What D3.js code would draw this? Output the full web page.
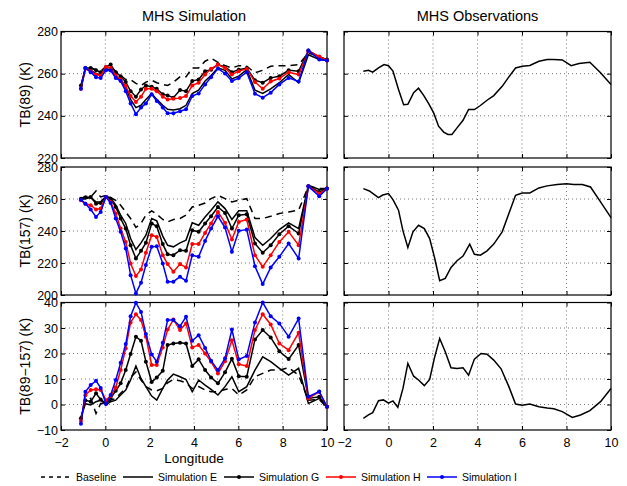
<!DOCTYPE html>
<html><head><meta charset="utf-8">
<script src="https://cdn.jsdelivr.net/npm/d3@7"></script>
<style>body{margin:0;background:#fff}svg{display:block;font-family:"Liberation Sans",Arial,sans-serif}</style>
</head><body><svg id="c" width="627" height="486"></svg>
<script>
// ---------- DATA ----------
const lonSim = [-1.10,-0.90,-0.66,-0.42,-0.21,0.03,0.24,0.47,0.69,0.92,1.14,1.38,1.61,1.83,2.09,2.32,2.59,2.81,3.07,3.37,3.64,3.92,4.21,4.50,4.77,5.08,5.40,5.71,6.02,6.38,6.75,7.10,7.46,7.85,8.27,8.72,9.16,9.65,10.0];

const base89 = [254.0,262.7,262.7,262.0,261.2,263.5,262.7,261.2,259.1,257.2,257.2,255.4,254.4,256.0,256.9,255.7,254.9,254.4,256.0,258.5,258.5,262.7,262.7,265.9,267.4,265.4,263.8,262.7,263.8,263.5,260.4,261.6,263.5,263.8,263.8,264.3,269.8,268.2,266.3];
const simE89 = [253.8,262.3,261.6,260.0,259.6,262.3,261.9,258.8,257.2,253.3,247.8,243.9,245.0,247.8,250.6,247.8,245.0,243.1,242.8,243.4,245.0,250.6,252.2,256.5,259.1,262.7,261.6,257.5,258.8,261.9,252.2,250.6,252.8,255.7,259.6,255.7,269.0,266.7,266.3];
const simG89 = [254.4,262.7,262.7,261.6,260.7,263.2,264.3,260.7,258.8,256.0,251.7,249.1,252.5,254.4,253.8,252.8,250.2,249.7,248.6,252.2,251.7,256.5,257.2,261.2,261.9,264.3,263.2,260.7,261.9,262.7,256.9,255.7,258.0,258.8,261.6,261.2,271.0,267.9,266.7];
const simH89 = [252.8,262.3,261.2,259.6,259.1,263.2,262.7,259.1,257.2,254.1,249.4,246.6,249.1,252.8,252.8,251.7,249.1,247.8,248.1,248.4,249.4,254.4,255.7,259.6,262.3,264.3,262.7,259.6,261.2,262.3,256.0,252.8,256.3,257.7,260.7,259.6,270.6,268.2,266.3];
const simI89 = [252.8,262.7,260.7,258.3,258.0,261.6,261.5,258.0,256.5,251.7,245.9,240.8,243.9,245.9,250.2,247.0,243.9,241.2,241.2,242.2,243.1,249.4,250.6,254.9,258.3,262.4,260.1,256.5,257.9,260.7,250.5,248.6,251.0,254.9,258.0,256.3,271.0,266.7,266.2];

const base157 = [260.2,261.7,261.3,265.0,261.3,262.3,260.9,259.2,256.1,251.9,247.8,242.2,244.7,249.9,252.6,250.5,247.2,245.7,247.2,247.8,249.9,255.0,256.1,257.5,260.2,262.3,260.2,258.2,259.2,260.2,247.8,247.8,249.2,250.9,251.9,253.0,267.9,266.5,266.5];
const simE157 = [259.6,260.2,260.9,258.2,258.2,261.7,260.9,256.1,249.9,244.7,235.3,228.4,232.6,237.4,247.8,246.3,236.8,231.1,230.1,232.6,234.3,245.1,243.6,248.8,253.0,258.2,254.0,247.2,252.6,252.6,235.9,231.1,235.3,240.9,245.1,241.5,268.6,265.9,266.5];
const simG157 = [260.2,260.9,261.3,257.1,257.5,261.3,260.2,255.0,247.8,241.5,231.1,222.8,227.6,232.6,244.7,243.0,231.8,225.5,224.9,228.0,227.6,240.5,239.5,244.7,249.2,255.0,251.3,241.5,249.9,250.5,232.2,226.4,231.1,238.0,243.0,238.4,267.9,264.4,266.5];
const simH157 = [259.2,257.1,256.1,253.4,254.0,261.3,258.2,250.9,241.5,233.2,219.7,211.8,216.0,226.4,237.4,236.3,224.9,219.3,214.5,219.3,217.2,231.8,231.8,238.8,244.7,251.9,245.1,234.7,245.7,247.2,224.9,217.6,224.9,233.2,239.5,231.1,267.9,263.4,266.5];
const simI157 = [259.6,257.1,253.4,248.8,251.9,261.3,257.5,247.8,239.5,229.1,212.4,201.0,207.7,218.7,230.1,230.5,219.7,208.3,208.3,211.4,208.9,224.9,223.9,233.8,241.5,249.2,242.2,227.0,240.1,240.9,218.0,206.8,217.2,223.9,232.2,222.8,267.9,261.7,266.5];

const baseDiff = [-6.0,1.2,2.4,-3.5,0.4,0.4,1.7,2.4,4.4,6.3,10.6,12.8,9.6,7.0,5.7,5.4,6.3,8.5,9.8,9.3,8.5,6.3,7.0,5.7,5.0,5.0,5.9,6.3,3.7,5.7,10.9,12.2,13.5,13.5,14.4,11.5,1.7,2.0,-1.1];
const simEDiff = [-5.0,0.3,-0.2,1.1,1.7,-0.1,1.1,1.7,3.7,5.7,9.6,15.1,10.2,7.0,3.3,1.7,6.3,9.6,11.9,10.9,9.8,5.0,9.6,7.6,5.9,3.7,7.0,10.9,5.0,7.0,13.5,18.7,16.8,14.2,11.5,14.2,0.4,2.4,-1.1];
const simGDiff = [-5.4,1.7,1.1,4.4,2.0,0.4,2.4,5.4,8.3,13.5,19.8,26.6,25.0,16.8,8.8,10.6,13.2,23.3,23.9,24.2,23.9,15.1,17.7,13.5,10.6,8.3,12.6,17.9,11.1,10.9,25.5,29.2,26.3,20.9,17.8,23.3,2.4,3.0,-0.9];
const simHDiff = [-6.5,3.6,5.7,6.0,5.7,1.7,3.3,6.7,13.5,22.0,32.2,35.4,33.1,26.6,15.5,15.5,22.4,29.4,33.3,29.2,31.8,22.4,23.3,20.0,16.8,12.2,17.0,25.2,15.8,15.1,29.2,35.4,31.4,23.9,21.3,28.1,2.4,5.0,-0.9];
const simIDiff = [-7.5,5.0,7.6,9.3,6.5,0.2,3.7,9.6,16.4,23.7,34.6,39.9,36.3,27.6,19.6,16.8,24.2,33.1,33.1,30.7,34.4,25.0,27.2,22.2,17.2,13.5,18.1,29.4,17.7,19.0,32.2,40.0,34.6,31.8,26.6,33.7,3.1,5.1,-0.9];

const obsLon89 = [-1.13,-0.90,-0.71,-0.45,-0.20,0.00,0.20,0.45,0.68,0.87,1.13,1.35,1.58,1.80,2.03,2.25,2.48,2.67,2.85,3.08,3.35,3.60,3.86,4.13,4.43,4.73,5.11,5.41,5.71,6.01,6.35,6.76,7.13,7.43,7.81,8.21,8.56,9.05,9.53,10.0];
const obs89 = [261.2,261.6,260.7,262.7,264.3,263.8,261.2,252.5,245.3,245.5,251.0,253.1,249.7,245.9,241.4,235.1,232.3,231.2,231.2,234.3,237.9,243.0,243.0,244.9,247.4,249.6,254.0,258.5,262.7,263.5,263.9,265.9,266.7,266.7,266.5,263.8,264.8,265.4,260.4,254.9];
const obsLon157 = [-1.13,-0.86,-0.65,-0.45,-0.26,0.00,0.20,0.45,0.65,0.87,1.10,1.35,1.61,1.85,2.06,2.30,2.55,2.81,3.08,3.35,3.65,3.86,4.13,4.43,4.73,5.11,5.41,5.71,6.01,6.35,6.76,7.13,7.58,8.00,8.33,8.71,9.08,9.53,10.0];
const obs157 = [266.5,265.0,262.9,260.9,262.5,263.4,259.6,253.0,240.1,229.7,239.5,243.6,241.5,235.3,223.9,208.9,210.4,217.2,221.4,224.3,231.8,225.5,224.9,227.6,231.8,239.5,250.9,262.3,263.8,263.8,266.9,268.2,269.0,269.6,269.0,269.0,267.5,258.2,248.4];
const obsLonDiff = [-1.13,-0.90,-0.71,-0.45,-0.23,0.00,0.20,0.42,0.65,0.87,1.13,1.35,1.61,1.85,2.06,2.30,2.55,2.81,3.08,3.35,3.60,3.86,4.16,4.43,4.73,5.06,5.41,5.71,6.01,6.35,6.76,7.13,7.43,7.81,8.26,8.63,9.05,9.53,10.0];
const obsDiff = [-5.4,-4.1,-3.2,1.5,1.8,0.5,1.4,-1.1,6.3,16.1,11.1,9.6,7.4,9.8,18.1,25.9,20.7,14.4,14.1,14.4,11.5,17.8,20.0,19.7,17.4,14.0,7.0,0.2,-0.3,0.2,-0.9,-1.4,-1.7,-2.8,-5.1,-4.1,-2.4,1.1,6.3];

const xTicks = [-2,0,2,4,6,8,10];
const rowDomains = [[220,280],[200,280],[-10,40]];
const rowTicks = [[220,240,260,280],[200,220,240,260,280],[-10,0,10,20,30,40]];
const rowLabels = ["TB(89) (K)","TB(157) (K)","TB(89\u2212157) (K)"];
const titles = ["MHS Simulation","MHS Observations"];
const seriesNames = ["Baseline","Simulation E","Simulation G","Simulation H","Simulation I"];

// ---------- DRAW ----------
const svg = d3.select("#c");
const colX = [[61,327],[344,611]];
const rowY = [[31.5,158],[167,295],[302.5,430]];
const styles = [
  {color:"#000", dash:"7,5", legDash:"4,4", marker:false},
  {color:"#000", dash:null, legDash:null, marker:false},
  {color:"#000", dash:null, legDash:null, marker:true},
  {color:"#ff0000", dash:null, legDash:null, marker:true},
  {color:"#0000ff", dash:null, legDash:null, marker:true}
];
const simData = [
  [base89,simE89,simG89,simH89,simI89],
  [base157,simE157,simG157,simH157,simI157],
  [baseDiff,simEDiff,simGDiff,simHDiff,simIDiff]
];
const obsData = [[obsLon89,obs89],[obsLon157,obs157],[obsLonDiff,obsDiff]];
const fmt = v => v < 0 ? "\u2212" + Math.abs(v) : String(v);

for (let r = 0; r < 3; r++) {
  for (let c = 0; c < 2; c++) {
    const x = d3.scaleLinear().domain([-2,10]).range(colX[c]);
    const y = d3.scaleLinear().domain(rowDomains[r]).range([rowY[r][1], rowY[r][0]]);
    const g = svg.append("g");
    // grid
    g.selectAll(".gx").data(xTicks.slice(1,-1)).join("line")
      .attr("x1", d=>x(d)).attr("x2", d=>x(d)).attr("y1", rowY[r][0]).attr("y2", rowY[r][1])
      .attr("stroke","#555").attr("stroke-width",0.8).attr("stroke-dasharray","1,3");
    g.selectAll(".gy").data(rowTicks[r].slice(1,-1)).join("line")
      .attr("y1", d=>y(d)).attr("y2", d=>y(d)).attr("x1", colX[c][0]).attr("x2", colX[c][1])
      .attr("stroke","#555").attr("stroke-width",0.8).attr("stroke-dasharray","1,3");
    // axes (ticks inward)
    const axB = d3.axisBottom(x).tickValues(xTicks).tickSize(-4).tickFormat(r===2 ? fmt : "");
    const axT = d3.axisTop(x).tickValues(xTicks).tickSize(-4).tickFormat("");
    const axL = d3.axisLeft(y).tickValues(rowTicks[r]).tickSize(-4).tickFormat(c===0 ? fmt : "");
    const axR = d3.axisRight(y).tickValues(rowTicks[r]).tickSize(-4).tickFormat("");
    const styleAx = sel => { sel.select(".domain").remove(); sel.selectAll("line").attr("stroke","#000");
      sel.selectAll("text").attr("font-size",12.5).attr("fill","#000").attr("font-family",'"Liberation Sans",Arial,sans-serif'); };
    g.append("g").attr("transform",`translate(0,${rowY[r][1]})`).call(axB).call(styleAx)
      .selectAll("text").attr("dy","0.95em").attr("y",5);
    g.append("g").attr("transform",`translate(0,${rowY[r][0]})`).call(axT).call(styleAx);
    g.append("g").attr("transform",`translate(${colX[c][0]},0)`).call(axL).call(styleAx)
      .selectAll("text").attr("x",-3);
    g.append("g").attr("transform",`translate(${colX[c][1]},0)`).call(axR).call(styleAx);
    g.append("rect").attr("x",colX[c][0]).attr("y",rowY[r][0])
      .attr("width",colX[c][1]-colX[c][0]).attr("height",rowY[r][1]-rowY[r][0])
      .attr("fill","none").attr("stroke","#000").attr("stroke-width",1.2);

    const line = d3.line().x(d=>x(d[0])).y(d=>y(d[1]));
    if (c === 0) {
      simData[r].forEach((vals, i) => {
        const pts = lonSim.map((l,k)=>[l, vals[k]]);
        const st = styles[i];
        g.append("path").attr("d", line(pts)).attr("fill","none")
          .attr("stroke", st.color).attr("stroke-width",1.5)
          .attr("stroke-dasharray", st.dash);
        if (st.marker) {
          g.selectAll(null).data(pts).join("circle")
            .attr("cx", d=>x(d[0])).attr("cy", d=>y(d[1])).attr("r",2)
            .attr("fill", st.color);
        }
      });
    } else {
      const [lons, vals] = obsData[r];
      const pts = lons.map((l,k)=>[l, vals[k]]);
      g.append("path").attr("d", line(pts)).attr("fill","none")
        .attr("stroke","#000").attr("stroke-width",1.5);
    }
    if (r === 0) {
      svg.append("text").attr("x",(colX[c][0]+colX[c][1])/2).attr("y",21)
        .attr("text-anchor","middle").attr("font-size",14.5).text(titles[c]);
    }
    if (c === 0) {
      const cy = (rowY[r][0]+rowY[r][1])/2;
      svg.append("text").attr("transform",`translate(30,${cy}) rotate(-90)`)
        .attr("text-anchor","middle").attr("font-size",14).text(rowLabels[r]);
    }
  }
}
svg.append("text").attr("x",(colX[0][0]+colX[0][1])/2).attr("y",463)
  .attr("text-anchor","middle").attr("font-size",13.5).text("Longitude");

// legend
const legX = [41,123,224,326,427];
const lg = svg.append("g");
seriesNames.forEach((name,i) => {
  const st = styles[i];
  const ly = 477;
  lg.append("line").attr("x1",legX[i]).attr("x2",legX[i]+30).attr("y1",ly).attr("y2",ly)
    .attr("stroke",st.color).attr("stroke-width",1.5).attr("stroke-dasharray",st.legDash);
  if (st.marker) lg.append("circle").attr("cx",legX[i]+15).attr("cy",ly).attr("r",2).attr("fill",st.color);
  lg.append("text").attr("x",legX[i]+35).attr("y",ly+3.5).attr("font-size",10.5).text(name);
});
</script></body></html>
